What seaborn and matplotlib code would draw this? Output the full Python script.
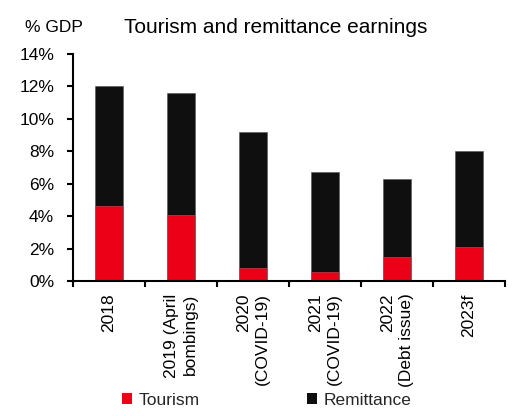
import matplotlib
matplotlib.use("Agg")
import matplotlib.pyplot as plt
import seaborn as sns
import pandas as pd
from matplotlib.ticker import FuncFormatter, FixedLocator
from matplotlib.patches import Patch

categories = ["2018", "2019 (April\nbombings)", "2020\n(COVID-19)", "2021\n(COVID-19)",
              "2022\n(Debt issue)", "2023f"]
tourism = [4.63, 4.05, 0.80, 0.56, 1.46, 2.08]
remittance = [7.37, 7.55, 8.37, 6.14, 4.84, 5.97]
yticks = [0, 2, 4, 6, 8, 10, 12, 14]

RED = "#EB0017"
BLACK = "#0F0F0F"

sns.set_theme(style="white")
plt.rcParams["font.family"] = ["Liberation Sans", "DejaVu Sans"]

df = pd.DataFrame({"category": categories, "tourism": tourism, "remittance": remittance})
df["total"] = df["tourism"] + df["remittance"]

fig = plt.figure(figsize=(5.14, 4.16), dpi=100)
ax = fig.add_axes([0.142, 0.3245, 0.840, 0.5455])

sns.barplot(data=df, x="category", y="total", color=BLACK, width=0.39,
            saturation=1, ax=ax, edgecolor="#555555", linewidth=0.4)
sns.barplot(data=df, x="category", y="tourism", color=RED, width=0.39,
            saturation=1, ax=ax, edgecolor="#777777", linewidth=0.4)

ax.set_xlim(-0.5, len(categories) - 0.5)
ax.set_ylim(0, 14)
ax.set_yticks(yticks)
ax.yaxis.set_major_formatter(FuncFormatter(lambda v, p: f"{int(v)}%"))
ax.set_xlabel("")
ax.set_ylabel("")

for s in ["top", "right"]:
    ax.spines[s].set_visible(False)
for s in ["left", "bottom"]:
    ax.spines[s].set_color("black")
    ax.spines[s].set_linewidth(1.5)

ax.tick_params(axis="y", direction="out", length=4.5, width=1.5, color="black",
               labelsize=12.5, pad=9, left=True, labelcolor="black")
ax.set_xticks(range(len(categories)))
ax.set_xticklabels(categories, rotation=90, ha="center", va="top",
                   multialignment="right", fontsize=12.5, linespacing=1.3)
ax.tick_params(axis="x", which="major", length=0, pad=9, labelcolor="black")
ax.xaxis.set_minor_locator(FixedLocator([i - 0.5 for i in range(len(categories) + 1)]))
ax.tick_params(axis="x", which="minor", direction="out", length=4.5, width=1.5,
               color="black", bottom=True)

fig.text(0.537, 0.935, "Tourism and remittance earnings", ha="center", va="center",
         fontsize=15, color="black")
fig.text(0.049, 0.935, "% GDP", ha="left", va="center", fontsize=12.5, color="black")

handles = [Patch(facecolor=RED, edgecolor="none", label="Tourism"),
           Patch(facecolor=BLACK, edgecolor="none", label="Remittance")]
fig.legend(handles=handles, loc="center left", bbox_to_anchor=(0.237, 0.038), ncol=2,
           frameon=False, fontsize=12.5, handlelength=0.6, handleheight=0.6,
           handletextpad=0.35, columnspacing=6.2, borderaxespad=0, borderpad=0)

fig.savefig("out.png", dpi=100)
